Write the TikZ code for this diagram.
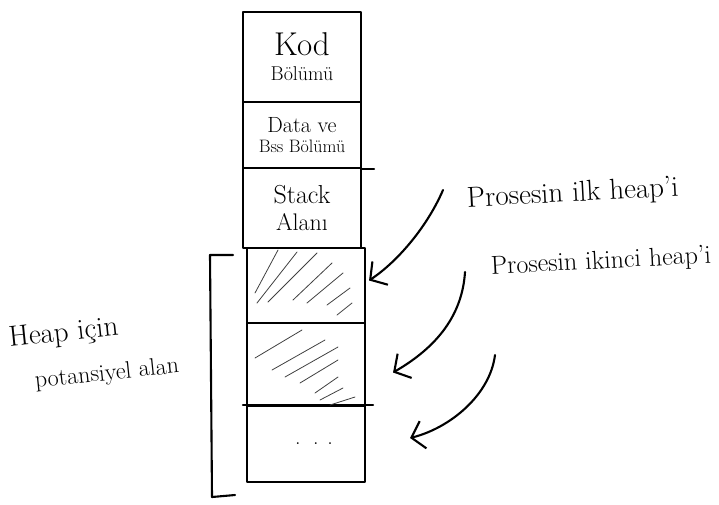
\documentclass[tikz,border=0pt]{standalone}
\usepackage{fontspec}
\usepackage{tikz}
\usetikzlibrary{arrows.meta,positioning}

\begin{document}
\begin{tikzpicture}[x=1pt,y=-1pt,line width=2.1pt,line cap=round,line join=round,
  cell/.style={draw,minimum width=118pt,inner sep=0pt,align=center},
  hatch/.style={line width=0.8pt,black!75},
  arr/.style={-{Straight Barb[length=12pt,width=28pt]}},
  note/.style={anchor=west,inner sep=0pt,font=\fontsize{22}{22}\selectfont}]
  \useasboundingbox (0,0) rectangle (719,504);
  \node[cell,minimum height=90] (kod) at (302,57)
    {{\fontsize{33}{33}\selectfont Kod}\\[10pt]{\fontsize{20}{20}\selectfont Bölümü}};
  \node[cell,minimum height=66] (data) at (302,135)
    {{\fontsize{22}{22}\selectfont Data ve}\\[7pt]{\fontsize{18}{18}\selectfont Bss Bölümü}};
  \node[cell,minimum height=80] (stack) at (302,208)
    {{\fontsize{26}{26}\selectfont Stack}\\[9pt]{\fontsize{24}{24}\selectfont Alanı}};
  \node[cell,minimum height=75] (heap1) at (306,285.5) {};
  \node[cell,minimum height=83] (heap2) at (306,364.5) {};
  \node[cell,minimum height=76] (rest) at (306,444)
    {\fontsize{22}{22}\selectfont\hspace*{16pt}. \,. .};
  \draw (data.south east) -- ++(12,0);
  \draw ([xshift=-3pt]rest.north west) -- ([xshift=7pt]rest.north east);
  \foreach \a/\b/\c/\d in {255/293/278/250,257/303/297/252,268/302/317/253,293/300/332/263,
      307/303/343/273,327/305/350/288,337/315/352/303}
    \draw[hatch] (\a,\b) -- (\c,\d);
  \foreach \a/\b/\c/\d in {255/358/302/330,272/370/325/340,285/377/338/347,300/383/338/360,
      315/393/338/377,320/400/343/388,330/405/355/397}
    \draw[hatch] (\a,\b) -- (\c,\d);
  \draw (233,255) -- (210,255) -- (212,497) -- (235,495);
  \node[note,rotate=6,font=\fontsize{29}{29}\selectfont] (lblA) at (8,340) {Heap için};
  \node[note,rotate=6,font=\fontsize{24}{24}\selectfont] (lblB) at (34,382) {potansiyel alan};
  \node[note,rotate=3,font=\fontsize{29}{29}\selectfont] (ilk) at (466,200) {Prosesin ilk heap'i};
  \node[note,rotate=3,font=\fontsize{26}{26}\selectfont] (ikinci) at (490,268) {Prosesin ikinci heap'i};
  \coordinate (t1) at (443,190);
  \coordinate (t2) at (465,272);
  \coordinate (t3) at (495,355);
  \draw[arr] (t1) .. controls +(-15,35) and +(30,-20) .. ([shift={(3,-5)}]heap1.east);
  \draw[arr] (t2) .. controls +(-3,48) and +(38,-22) .. ([shift={(27,8)}]heap2.east);
  \draw[arr] (t3) .. controls +(-5,40) and +(40,-10) .. ([shift={(44,-6)}]rest.east);
\end{tikzpicture}
\end{document}
